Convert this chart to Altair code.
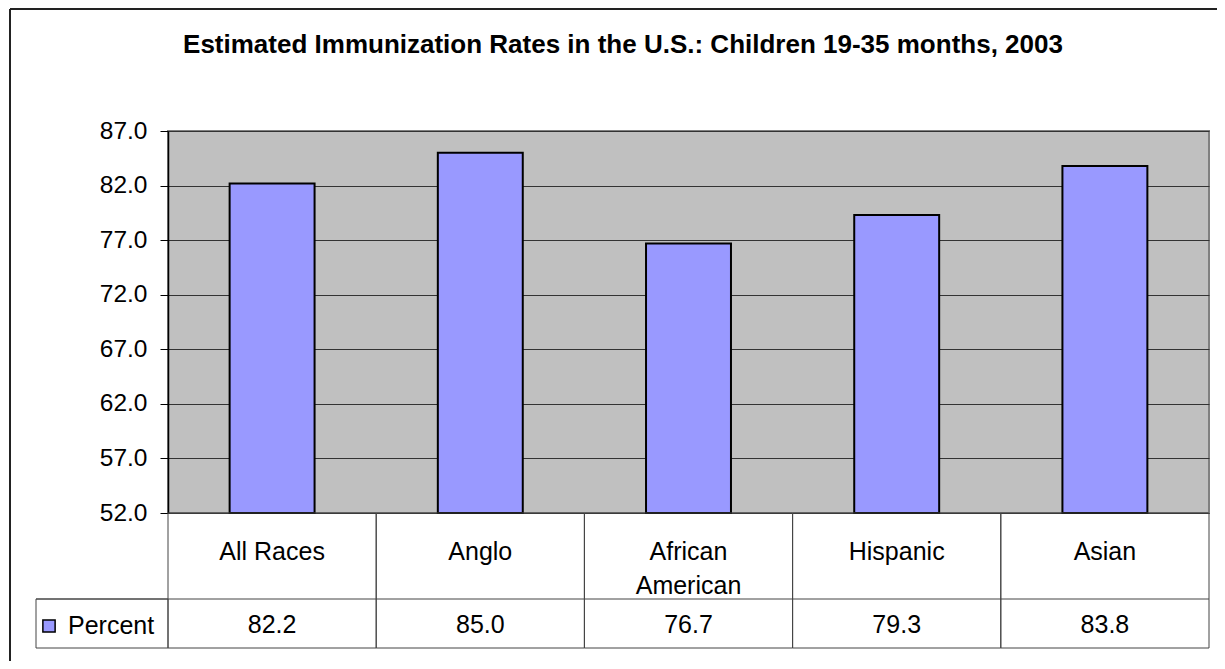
import altair as alt
import pandas as pd

# ---- data ----
categories = ["All Races", "Anglo", "African American", "Hispanic", "Asian"]
table_labels = ["All Races", "Anglo", "African\nAmerican", "Hispanic", "Asian"]
percent = [82.2, 85.0, 76.7, 79.3, 83.8]
series_name = "Percent"
y_ticks = [52, 57, 62, 67, 72, 77, 82, 87]
title_text = "Estimated Immunization Rates in the U.S.: Children 19-35 months, 2003"

df = pd.DataFrame({"cat": categories, "label": table_labels, "value": percent})
df["value_text"] = [f"{v:.1f}" for v in percent]
one = pd.DataFrame({"series": [series_name], "title": [title_text]})

FONT = "Liberation Sans"
W, H = 1041, 382
BAR = "#9999FF"
LINE = "#444444"

x_bars = alt.X("cat:N", sort=categories, axis=None,
               scale=alt.Scale(paddingInner=0.592, paddingOuter=0.296))
x_table = alt.X("cat:N", sort=categories, axis=None,
                scale=alt.Scale(paddingInner=0, paddingOuter=0))

bars = alt.Chart(df).mark_bar(color=BAR, stroke="black", strokeWidth=2).encode(
    x=x_bars,
    y=alt.Y("value:Q",
            scale=alt.Scale(domain=[52, 87], zero=False, nice=False),
            axis=alt.Axis(values=y_ticks, format=".1f", title=None, grid=True,
                          gridColor="#333333", gridWidth=1,
                          domainColor="black", domainWidth=1.5,
                          tickColor="black", tickSize=8, tickWidth=1,
                          labelFontSize=24.5, labelFont=FONT, labelColor="black",
                          labelPadding=13)),
    y2=alt.datum(52),
)

# data table cells (one column per category)
cells = alt.Chart(df).mark_rect(filled=False, stroke=LINE, strokeWidth=1).encode(
    x=x_table, y=alt.value(H), y2=alt.value(H + 135)
)
row_line = alt.Chart(one).mark_rule(color=LINE, strokeWidth=1).encode(
    x=alt.value(-132), x2=alt.value(W), y=alt.value(H + 86)
)
legend_cell = alt.Chart(one).mark_rect(filled=False, stroke=LINE, strokeWidth=1).encode(
    x=alt.value(-132), x2=alt.value(0), y=alt.value(H + 86), y2=alt.value(H + 135)
)
cat_text = alt.Chart(df).mark_text(font=FONT, fontSize=25, color="black",
                                   lineBreak="\n", lineHeight=34, baseline="middle").encode(
    x=x_table, y=alt.value(H + 39), text="label:N"
)
val_text = alt.Chart(df).mark_text(font=FONT, fontSize=25, color="black",
                                   baseline="middle").encode(
    x=x_table, y=alt.value(H + 112), text="value_text:N"
)
legend_sym = alt.Chart(one).mark_square(size=150, fill=BAR, stroke="black",
                                        strokeWidth=1.5, opacity=1).encode(
    x=alt.value(-119), y=alt.value(H + 113)
)
legend_txt = alt.Chart(one).mark_text(font=FONT, fontSize=25, color="black",
                                      align="left", baseline="middle").encode(
    x=alt.value(-100), y=alt.value(H + 113), text="series:N"
)
title = alt.Chart(one).mark_text(font=FONT, fontSize=26, fontWeight="bold",
                                 color="black", align="center",
                                 baseline="middle").encode(
    x=alt.value(455), y=alt.value(-86), text="title:N"
)
# outer chart frame: only top and left edges fall inside the picture
frame_top = alt.Chart(one).mark_rule(color="#222222", strokeWidth=2).encode(
    x=alt.value(-158), x2=alt.value(W + 8), y=alt.value(-122)
)
frame_left = alt.Chart(one).mark_rule(color="#222222", strokeWidth=2).encode(
    x=alt.value(-158), y=alt.value(-122), y2=alt.value(H + 148)
)

chart = alt.layer(
    bars, cells, row_line, legend_cell, cat_text, val_text,
    legend_sym, legend_txt, title, frame_top, frame_left
).resolve_scale(x="independent").properties(
    width=W, height=H,
    padding={"left": 160, "top": 123, "right": 8, "bottom": 148},
    autosize=alt.AutoSizeParams(type="none"),
    background="white",
).configure_view(
    fill="#C0C0C0", stroke="#808080", strokeWidth=2
)

chart.save("out.html", embed_options={"renderer": "svg", "actions": False})
